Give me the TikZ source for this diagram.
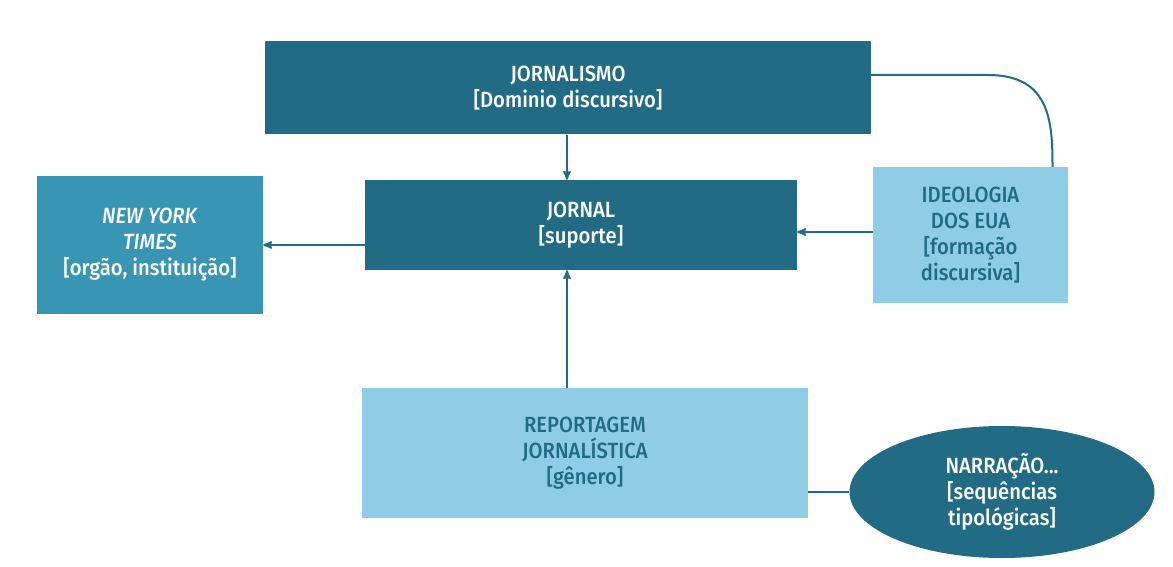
\documentclass[tikz,border=0pt]{standalone}
\usepackage{fontspec}
\setmainfont{Fira Sans}[UprightFont=* Medium,ItalicFont=* Medium Italic,FakeStretch=0.92]
\usetikzlibrary{arrows}
\usetikzlibrary{positioning}
\usetikzlibrary{shapes.geometric}

\definecolor{tealdark}{RGB}{33,107,133}
\definecolor{tealmid}{RGB}{56,150,180}
\definecolor{tealpale}{RGB}{142,205,229}

\begin{document}
\begin{tikzpicture}[x=1pt,y=-1pt,
    every node/.style={align=center,inner sep=0pt,font=\fontsize{22}{26}\selectfont},
    darkbox/.style={rectangle,fill=tealdark,text=white},
    midbox/.style={rectangle,fill=tealmid,text=white},
    palebox/.style={rectangle,fill=tealpale,text=tealdark},
    link/.style={draw=tealdark,line width=2pt},
    linkarrow/.style={link,->,>=stealth'}]

  \useasboundingbox [fill=white] (0,0) rectangle (1173,567);

  % boxes
  \node [darkbox,minimum width=606pt,minimum height=93pt] (jornalismo) at (568,88)
    {JORNALISMO\\{[Dominio discursivo]}};
  \node [darkbox,minimum width=432pt,minimum height=90pt] (jornal) at (581,225)
    {JORNAL\\{[suporte]}};
  \node [midbox,minimum width=226pt,minimum height=138pt] (nyt) at (150,245)
    {\textit{NEW YORK}\\\textit{TIMES}\\{[orgão, instituição]}};
  \node [palebox,minimum width=195pt,minimum height=136pt] (ideologia) at (970.5,235)
    {IDEOLOGIA\\DOS EUA\\{[formação}\\discursiva]};
  \node [palebox,minimum width=446pt,minimum height=130pt] (reportagem) at (585,453)
    {REPORTAGEM\\JORNALÍSTICA\\{[gênero]}};
  \node [darkbox,ellipse,minimum width=305pt,minimum height=132pt] (narracao) at (1002,492)
    {NARRAÇÃO...\\{[sequências}\\tipológicas]};

  \coordinate (spine) at (567,0);
  \coordinate (ideologia_top) at ([xshift=82pt]ideologia.north);

  % connectors
  \draw [linkarrow] (jornalismo.south -| spine) -- (jornal.north -| spine);
  \draw [linkarrow] (reportagem.north -| spine) -- (jornal.south -| spine);
  \draw [linkarrow] ([yshift=-20pt]jornal.west) -- ([yshift=-20pt]jornal.west -| nyt.east);
  \draw [linkarrow] ([yshift=3pt]ideologia.west) -- ([yshift=3pt]ideologia.west -| jornal.east);

  \draw [link] ([yshift=13pt]jornalismo.east) -- ++(117,0)
    .. controls +(62,0) and +(0,-45) .. (ideologia_top);

  \draw [link] (narracao.west) -- (narracao.west -| reportagem.east);

\end{tikzpicture}
\end{document}
